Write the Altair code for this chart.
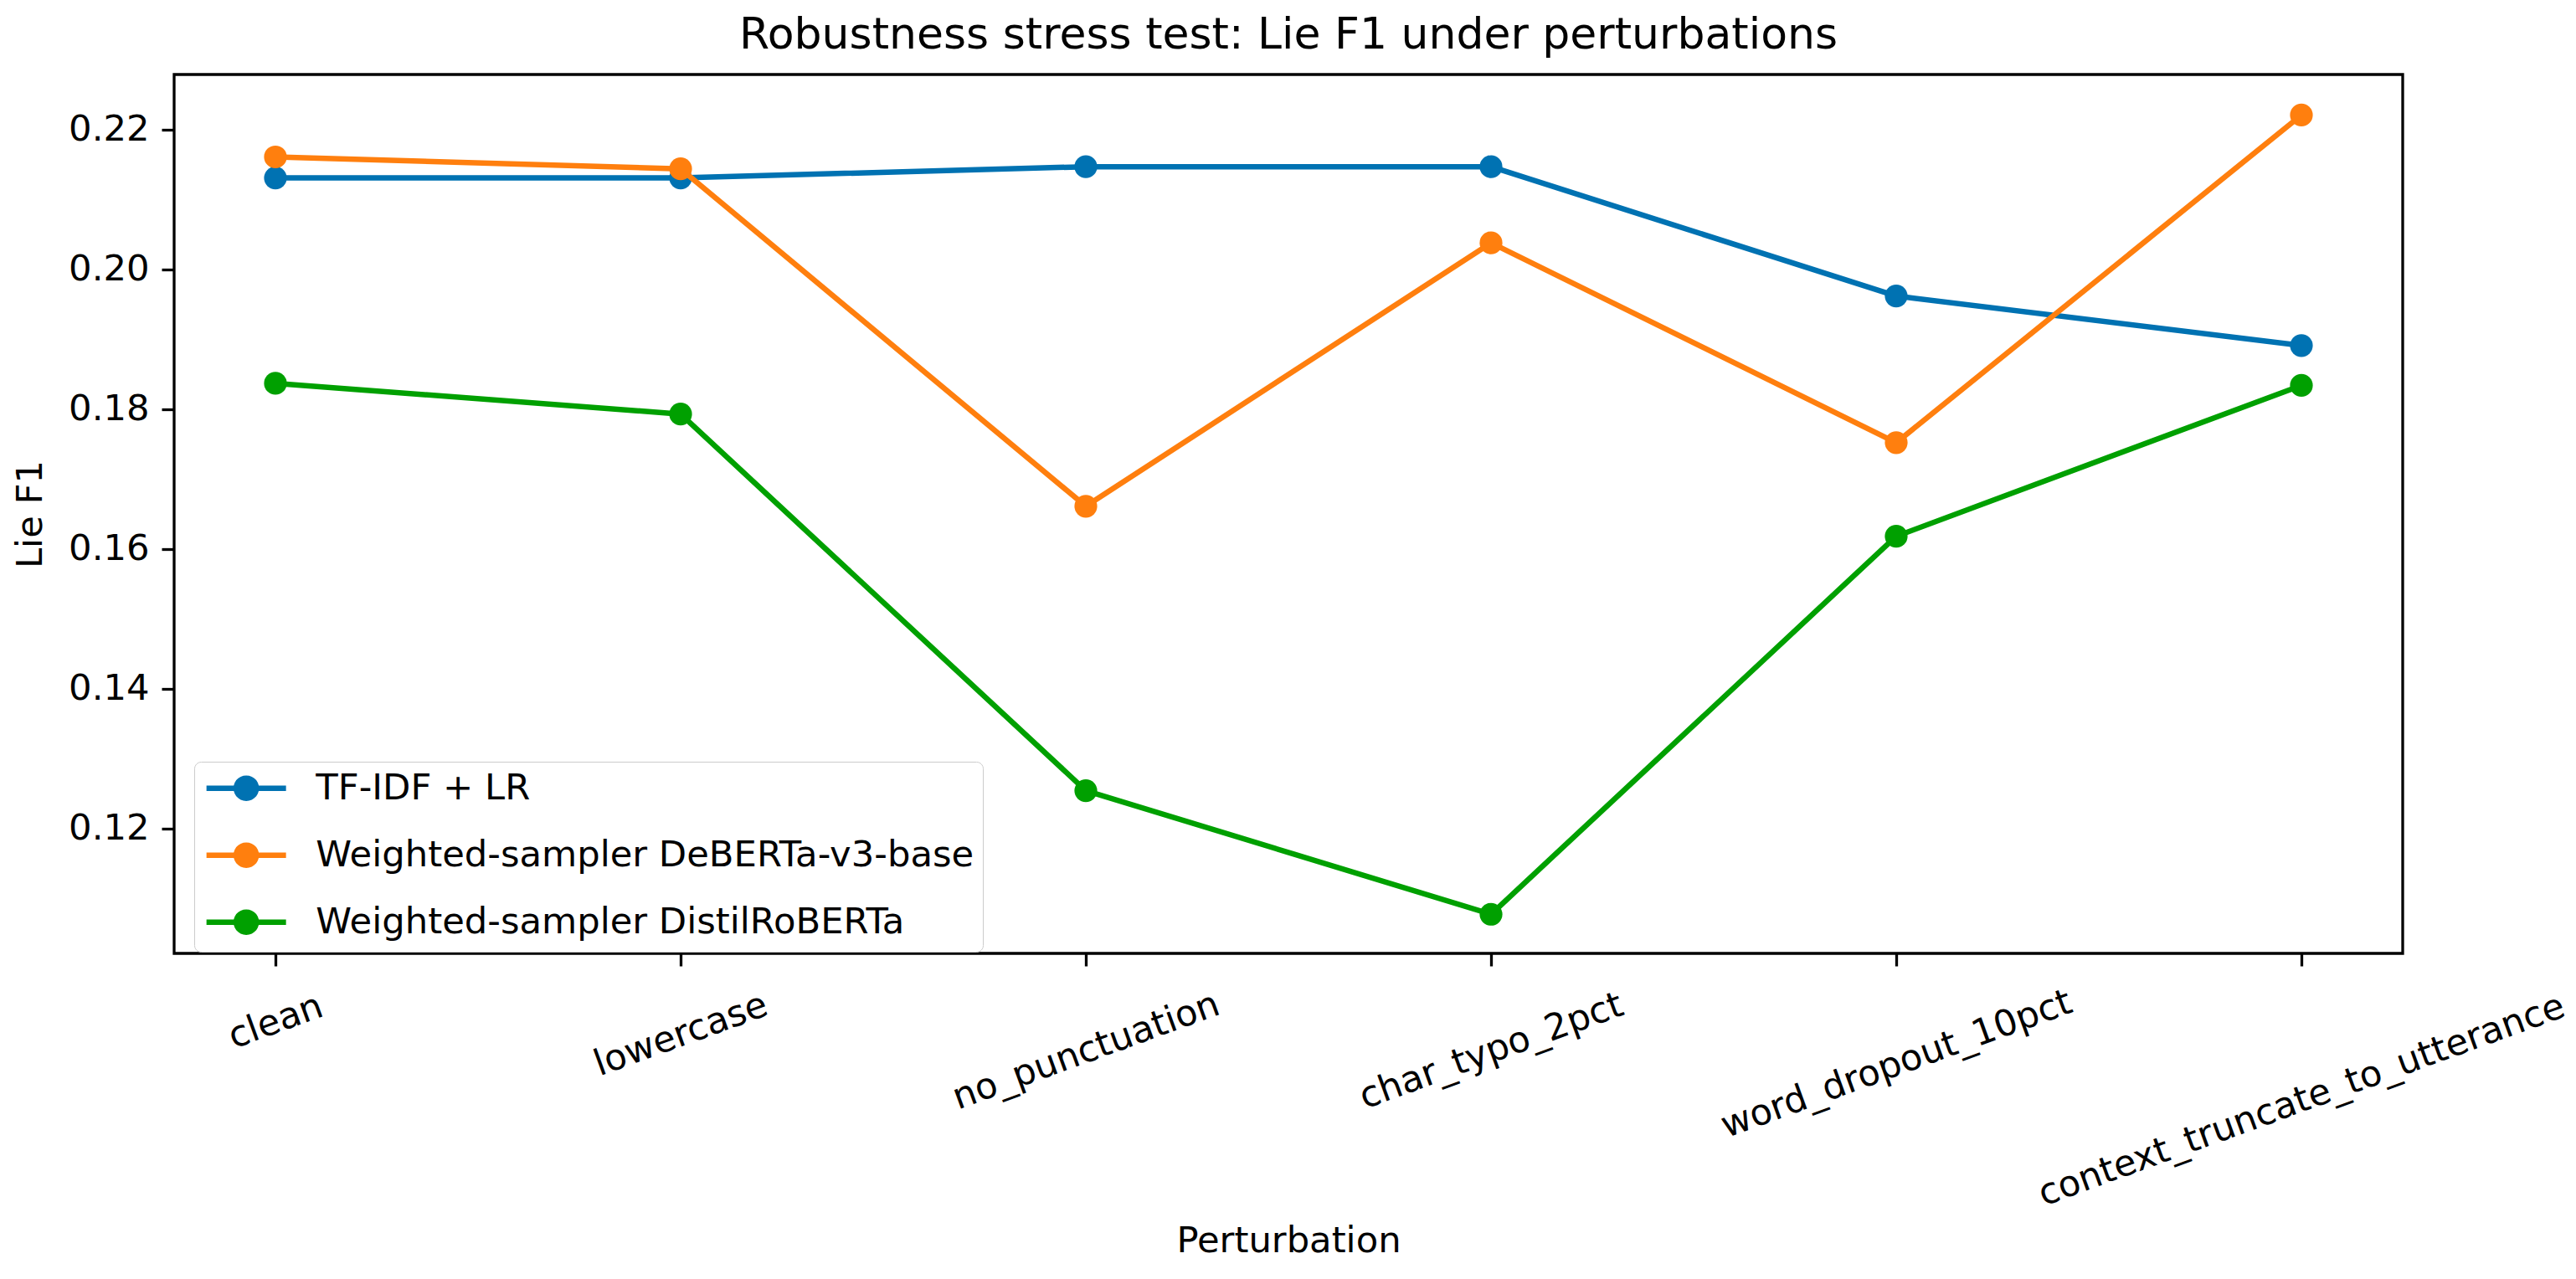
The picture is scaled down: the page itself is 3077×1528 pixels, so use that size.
import math
import altair as alt
import pandas as pd

perturbations = ["clean", "lowercase", "no_punctuation", "char_typo_2pct",
                 "word_dropout_10pct", "context_truncate_to_utterance"]
models = ["TF-IDF + LR", "Weighted-sampler DeBERTa-v3-base", "Weighted-sampler DistilRoBERTa"]
tfidf_lr = [0.2131, 0.2131, 0.2147, 0.2147, 0.1962, 0.1891]
deberta = [0.2161, 0.2144, 0.1661, 0.2038, 0.1752, 0.2221]
distil = [0.1837, 0.1793, 0.1254, 0.1077, 0.1618, 0.1834]
colors = ["#0072B2", "#FF7F0E", "#00A000"]
y_ticks = [0.12, 0.14, 0.16, 0.18, 0.20, 0.22]

series = [tfidf_lr, deberta, distil]
rows = []
for m, vals in zip(models, series):
    for p, v in zip(perturbations, vals):
        rows.append({"model": m, "perturbation": p, "f1": v})
df = pd.DataFrame(rows)

FONT = "DejaVu Sans"
FS = 43.3
W, H = 2662, 1050

# legend symbol: a line with a filled disc (concentric rings), unit = sqrt(size)/2
def ring(r, n=28):
    pts = [(r * math.cos(2 * math.pi * k / n), r * math.sin(2 * math.pi * k / n)) for k in range(n)]
    return "M" + " L".join(f"{x:.3f},{y:.3f}" for x, y in pts) + " Z"

unit = 95 / 6.0  # px per path unit
sym_path = "M-3,0 L3,0 " + " ".join(ring(r / unit) for r in [12, 8, 4, 1])
sym_size = (2 * unit) ** 2

xscale = alt.Scale(type="point", padding=0.25)
yscale = alt.Scale(domain=[0.1021, 0.2279], nice=False, zero=False)
cscale = alt.Scale(domain=models, range=colors)

xaxis = alt.Axis(labels=True, labelAngle=340, labelAlign="center", labelBaseline="middle",
                 labelFont=FONT, labelFontSize=FS, labelColor="black",
                 labelPadding={"expr": "46.7 + length(datum.value) * 3.92"},
                 labelLimit=2000, labelOverlap=False, labelFlush=False,
                 ticks=True, tickSize=15, tickWidth=3.3, tickColor="black",
                 domain=False, grid=False, title="Perturbation", titleFont=FONT,
                 titleFontSize=FS, titleFontWeight="normal", titleColor="black",
                 titleX=W / 2, titleY=356, titleBaseline="alphabetic", titleAlign="center")
yaxis = alt.Axis(values=y_ticks, format=".2f", labelFont=FONT, labelFontSize=FS,
                 labelColor="black", labelPadding=15, tickSize=15, tickWidth=3.3,
                 tickColor="black", domain=False, grid=False, title="Lie F1",
                 titleFont=FONT, titleFontSize=FS, titleFontWeight="normal",
                 titleColor="black", titleX=-159, titleY=H / 2, titleAngle=270,
                 titleBaseline="alphabetic", titleAlign="center")

legend = alt.Legend(orient="none", legendX=24, legendY=821, title=None,
                    labelFont=FONT, labelFontSize=FS, labelColor="black",
                    symbolType=sym_path, symbolSize=sym_size, symbolStrokeWidth=6.5,
                    padding=10, rowPadding=29, symbolOffset=30.5, labelOffset=61.5,
                    strokeColor="#cccccc", fillColor="rgba(255,255,255,0.8)",
                    cornerRadius=8, labelLimit=2000)

layers = []
for i, m in enumerate(models):
    base = alt.Chart(df).transform_filter(alt.datum.model == m)
    line = base.mark_line(strokeWidth=6.5, strokeJoin="round").encode(
        x=alt.X("perturbation:N", sort=perturbations, scale=xscale, axis=xaxis),
        y=alt.Y("f1:Q", scale=yscale, axis=yaxis),
        color=alt.Color("model:N", scale=cscale, legend=legend if i == 0 else None),
    )
    pts = base.mark_point(filled=True, size=740, opacity=1, strokeWidth=0).encode(
        x=alt.X("perturbation:N", sort=perturbations, scale=xscale, axis=xaxis),
        y=alt.Y("f1:Q", scale=yscale, axis=yaxis),
        color=alt.Color("model:N", scale=cscale, legend=None),
    )
    layers += [line, pts]

chart = alt.layer(*layers).properties(
    width=W, height=H,
    title=alt.TitleParams("Robustness stress test: Lie F1 under perturbations",
                          font=FONT, fontSize=52, fontWeight="normal", color="black",
                          anchor="middle", baseline="alphabetic", offset=27, dy=48),
    padding={"left": 200, "top": 81, "right": 199, "bottom": 370},
    autosize=alt.AutoSizeParams(type="none"),
).configure_view(stroke="black", strokeWidth=3.3)

chart.save("out.html", embed_options={"renderer": "svg", "actions": False})
